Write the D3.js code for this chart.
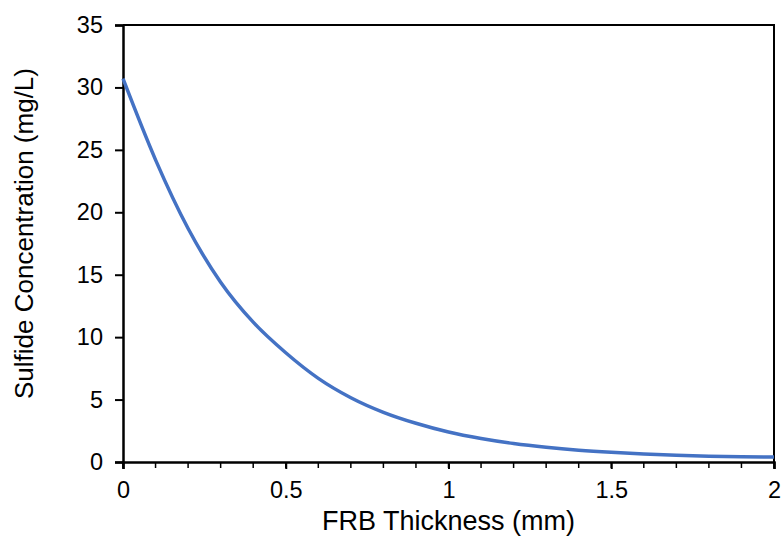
<!DOCTYPE html>
<html>
<head>
<meta charset="utf-8">
<script src="https://cdn.jsdelivr.net/npm/d3@7"></script>
<style>
  body { margin: 0; background: #fff; }
  svg text { font-family: "Liberation Sans", Arial, sans-serif; fill: #000; }
</style>
</head>
<body>
<svg id="chart"></svg>
<script>
const width = 781;
const height = 541;

// thickness (mm) and sulfide concentration (mg/L)
const thickness = [0, 0.1, 0.2, 0.3, 0.4, 0.5, 0.6, 0.7, 0.8, 0.9, 1.0,
    1.1, 1.2, 1.3, 1.4, 1.5, 1.6, 1.7, 1.8, 1.9, 2.0];
const sulfide = [30.7, 24.2, 18.7, 14.4, 11.2, 8.75, 6.7, 5.15, 3.98, 3.1, 2.4,
    1.88, 1.48, 1.18, 0.95, 0.78, 0.65, 0.55, 0.47, 0.42, 0.4];

const xTicks = [0, 0.5, 1, 1.5, 2];
const yTicks = [0, 5, 10, 15, 20, 25, 30, 35];

const margin = { top: 25, right: 7, bottom: 79, left: 123 };

const svg = d3.select('#chart')
    .attr('width', width)
    .attr('height', height);

const x = d3.scaleLinear().domain([0, 2]).range([margin.left, width - margin.right]);
const y = d3.scaleLinear().domain([0, 35]).range([height - margin.bottom, margin.top]);

const data = thickness.map((t, i) => ({ x: t, y: sulfide[i] }));

// frame (top and right edges)
svg.append('path')
    .attr('d', `M${x(0)},${y(35)}H${x(2)}V${y(0)}`)
    .attr('fill', 'none')
    .attr('stroke', '#000')
    .attr('stroke-width', 2);

// y axis
const yAxis = svg.append('g')
    .attr('transform', `translate(${x(0)},0)`)
    .call(d3.axisLeft(y).tickValues(yTicks).tickSize(8).tickPadding(12).tickFormat(d3.format('d')));

// minor x ticks
svg.append('g')
    .selectAll('line')
    .data(d3.range(0, 21).map(d => d / 10))
    .enter().append('line')
    .attr('x1', d => x(d)).attr('x2', d => x(d))
    .attr('y1', y(0)).attr('y2', y(0) + 6)
    .attr('stroke', '#000')
    .attr('stroke-width', 1.5);

const xAxis = svg.append('g')
    .attr('transform', `translate(0,${y(0)})`)
    .call(d3.axisBottom(x).tickValues(xTicks).tickSize(7).tickPadding(12).tickFormat(d => d));

[xAxis, yAxis].forEach(g => {
    g.select('.domain').attr('stroke-width', 2.5);
    g.selectAll('.tick line').attr('stroke-width', 2);
    g.selectAll('.tick text').style('font-size', '23.5px');
});

// curve
svg.append('path')
    .datum(data)
    .attr('fill', 'none')
    .attr('stroke', '#4472C4')
    .attr('stroke-width', 3.5)
    .attr('d', d3.line().x(d => x(d.x)).y(d => y(d.y)).curve(d3.curveMonotoneX));

// axis titles
svg.append('text')
    .attr('x', (x(0) + x(2)) / 2)
    .attr('y', 530)
    .attr('text-anchor', 'middle')
    .style('font-size', '27px')
    .text('FRB Thickness (mm)');

svg.append('text')
    .attr('transform', `translate(33,233.5) rotate(-90)`)
    .attr('text-anchor', 'middle')
    .style('font-size', '26px')
    .text('Sulfide Concentration (mg/L)');
</script>
</body>
</html>
